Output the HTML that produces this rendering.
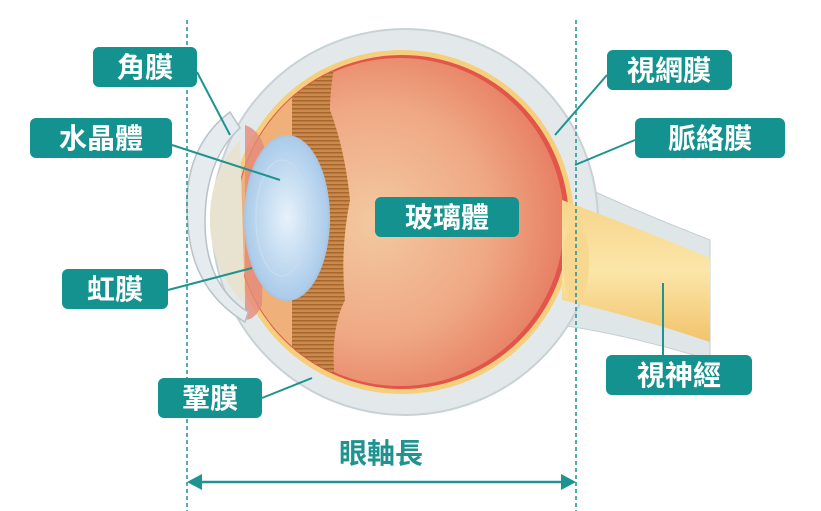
<!DOCTYPE html>
<html><head><meta charset="utf-8"><style>
html,body{margin:0;padding:0;background:#fff;width:821px;height:511px;overflow:hidden}
svg text{font-family:"Liberation Sans","Noto Sans CJK TC",sans-serif;font-weight:bold}
</style></head><body>
<svg width="821" height="511" viewBox="0 0 821 511" xmlns="http://www.w3.org/2000/svg">
<defs>
<radialGradient id="vit" cx="0.42" cy="0.5" r="0.65">
<stop offset="0" stop-color="#f3c9a0"/><stop offset="0.55" stop-color="#efa884"/><stop offset="1" stop-color="#e5735a"/>
</radialGradient>
<radialGradient id="lens" cx="0.5" cy="0.5" r="0.6">
<stop offset="0" stop-color="#e6f2fb"/><stop offset="1" stop-color="#9ec3e6"/>
</radialGradient>
<linearGradient id="nerve" x1="0" y1="0" x2="0" y2="1">
<stop offset="0" stop-color="#f7d48a"/><stop offset="0.5" stop-color="#fbe6a8"/><stop offset="1" stop-color="#f2c36c"/>
</linearGradient>
<pattern id="stripes" width="6" height="4" patternUnits="userSpaceOnUse">
<rect width="6" height="4" fill="#c98a4e"/><rect width="6" height="1.5" fill="#a8652c"/>
</pattern>
<clipPath id="inner"><circle cx="402" cy="222" r="166"/></clipPath>
</defs>
<!-- optic nerve sheath -->
<path d="M560 175 Q620 205 710 240 L710 360 Q630 335 560 325 Z" fill="#dfe6e8" stroke="#c5cfd2"/>
<!-- sclera -->
<circle cx="405" cy="222" r="193" fill="#e3e9eb" stroke="#c8d1d4" stroke-width="2"/>
<circle cx="402" cy="222" r="172" fill="#f6cf7c"/>
<circle cx="402" cy="222" r="167" fill="#e2554a"/>
<circle cx="400" cy="222" r="164" fill="url(#vit)"/>
<path d="M562 200 Q630 225 710 258 L710 342 Q630 315 562 300 Z" fill="url(#nerve)"/>
<ellipse cx="576" cy="262" rx="13" ry="42" fill="#f8d890"/>
<g clip-path="url(#inner)">
<path d="M230 40 L340 40 Q330 80 330 110 Q345 150 350 200 Q340 250 345 300 Q325 340 340 410 L230 410 Z" fill="url(#stripes)"/>
<path d="M230 40 L292 40 L292 410 L230 410 Z" fill="#f0b07a"/>
</g>
<path d="M245 125 Q260 130 265 150 L262 305 Q255 320 245 320 Z" fill="#e58a7c" opacity="0.8"/>
<!-- cornea -->
<path d="M230 112 Q180 150 188 225 Q192 290 245 322 L248 312 Q205 285 205 222 Q205 160 240 128 Z" fill="#e5ebee" stroke="#b8c3c7" stroke-width="1.5"/>
<path d="M240 140 Q208 175 210 225 Q212 270 245 305 Z" fill="#e8e2d0"/>
<!-- lens -->
<ellipse cx="287" cy="218" rx="42" ry="82" fill="url(#lens)" stroke="#a9c6e2" stroke-width="2"/>
<ellipse cx="282" cy="218" rx="26" ry="58" fill="none" stroke="#c6dcef" stroke-width="1.5"/>
<!-- dashed lines -->
<line x1="187" y1="20" x2="187" y2="511" stroke="#1e9390" stroke-width="1.5" stroke-dasharray="4,3"/>
<line x1="576" y1="20" x2="576" y2="511" stroke="#1e9390" stroke-width="1.5" stroke-dasharray="4,3"/>
<g stroke="#1e9390" stroke-width="2">
<line x1="197" y1="72" x2="230" y2="135"/>
<line x1="172" y1="145" x2="280" y2="180"/>
<line x1="168" y1="290" x2="252" y2="268"/>
<line x1="262" y1="398" x2="312" y2="378"/>
<line x1="607" y1="75" x2="555" y2="135"/>
<line x1="635" y1="140" x2="575" y2="165"/>
<line x1="663" y1="355" x2="663" y2="283"/>
</g>
<line x1="196" y1="482" x2="566" y2="482" stroke="#1e9390" stroke-width="2.5"/>
<polygon points="187,482 202,474 202,490" fill="#1e9390"/>
<polygon points="576,482 561,474 561,490" fill="#1e9390"/>
<text x="381" y="463" font-size="28" fill="#1e9390" text-anchor="middle">眼軸長</text>
<g fill="#14928f">
<rect x="93" y="47" width="104" height="40" rx="6"/>
<rect x="30" y="118" width="142" height="40" rx="6"/>
<rect x="62" y="269" width="106" height="40" rx="6"/>
<rect x="158" y="378" width="104" height="40" rx="6"/>
<rect x="375" y="197" width="144" height="40" rx="6"/>
<rect x="607" y="50" width="125" height="40" rx="6"/>
<rect x="635" y="118" width="150" height="40" rx="6"/>
<rect x="606" y="355" width="146" height="40" rx="6"/>
</g>
<g fill="#fff" font-size="28" text-anchor="middle">
<text x="145" y="77">角膜</text>
<text x="101" y="148">水晶體</text>
<text x="115" y="299">虹膜</text>
<text x="210" y="408">鞏膜</text>
<text x="447" y="227">玻璃體</text>
<text x="669" y="80">視網膜</text>
<text x="710" y="148">脈絡膜</text>
<text x="679" y="385">視神經</text>
</g>
</svg>
</body></html>
